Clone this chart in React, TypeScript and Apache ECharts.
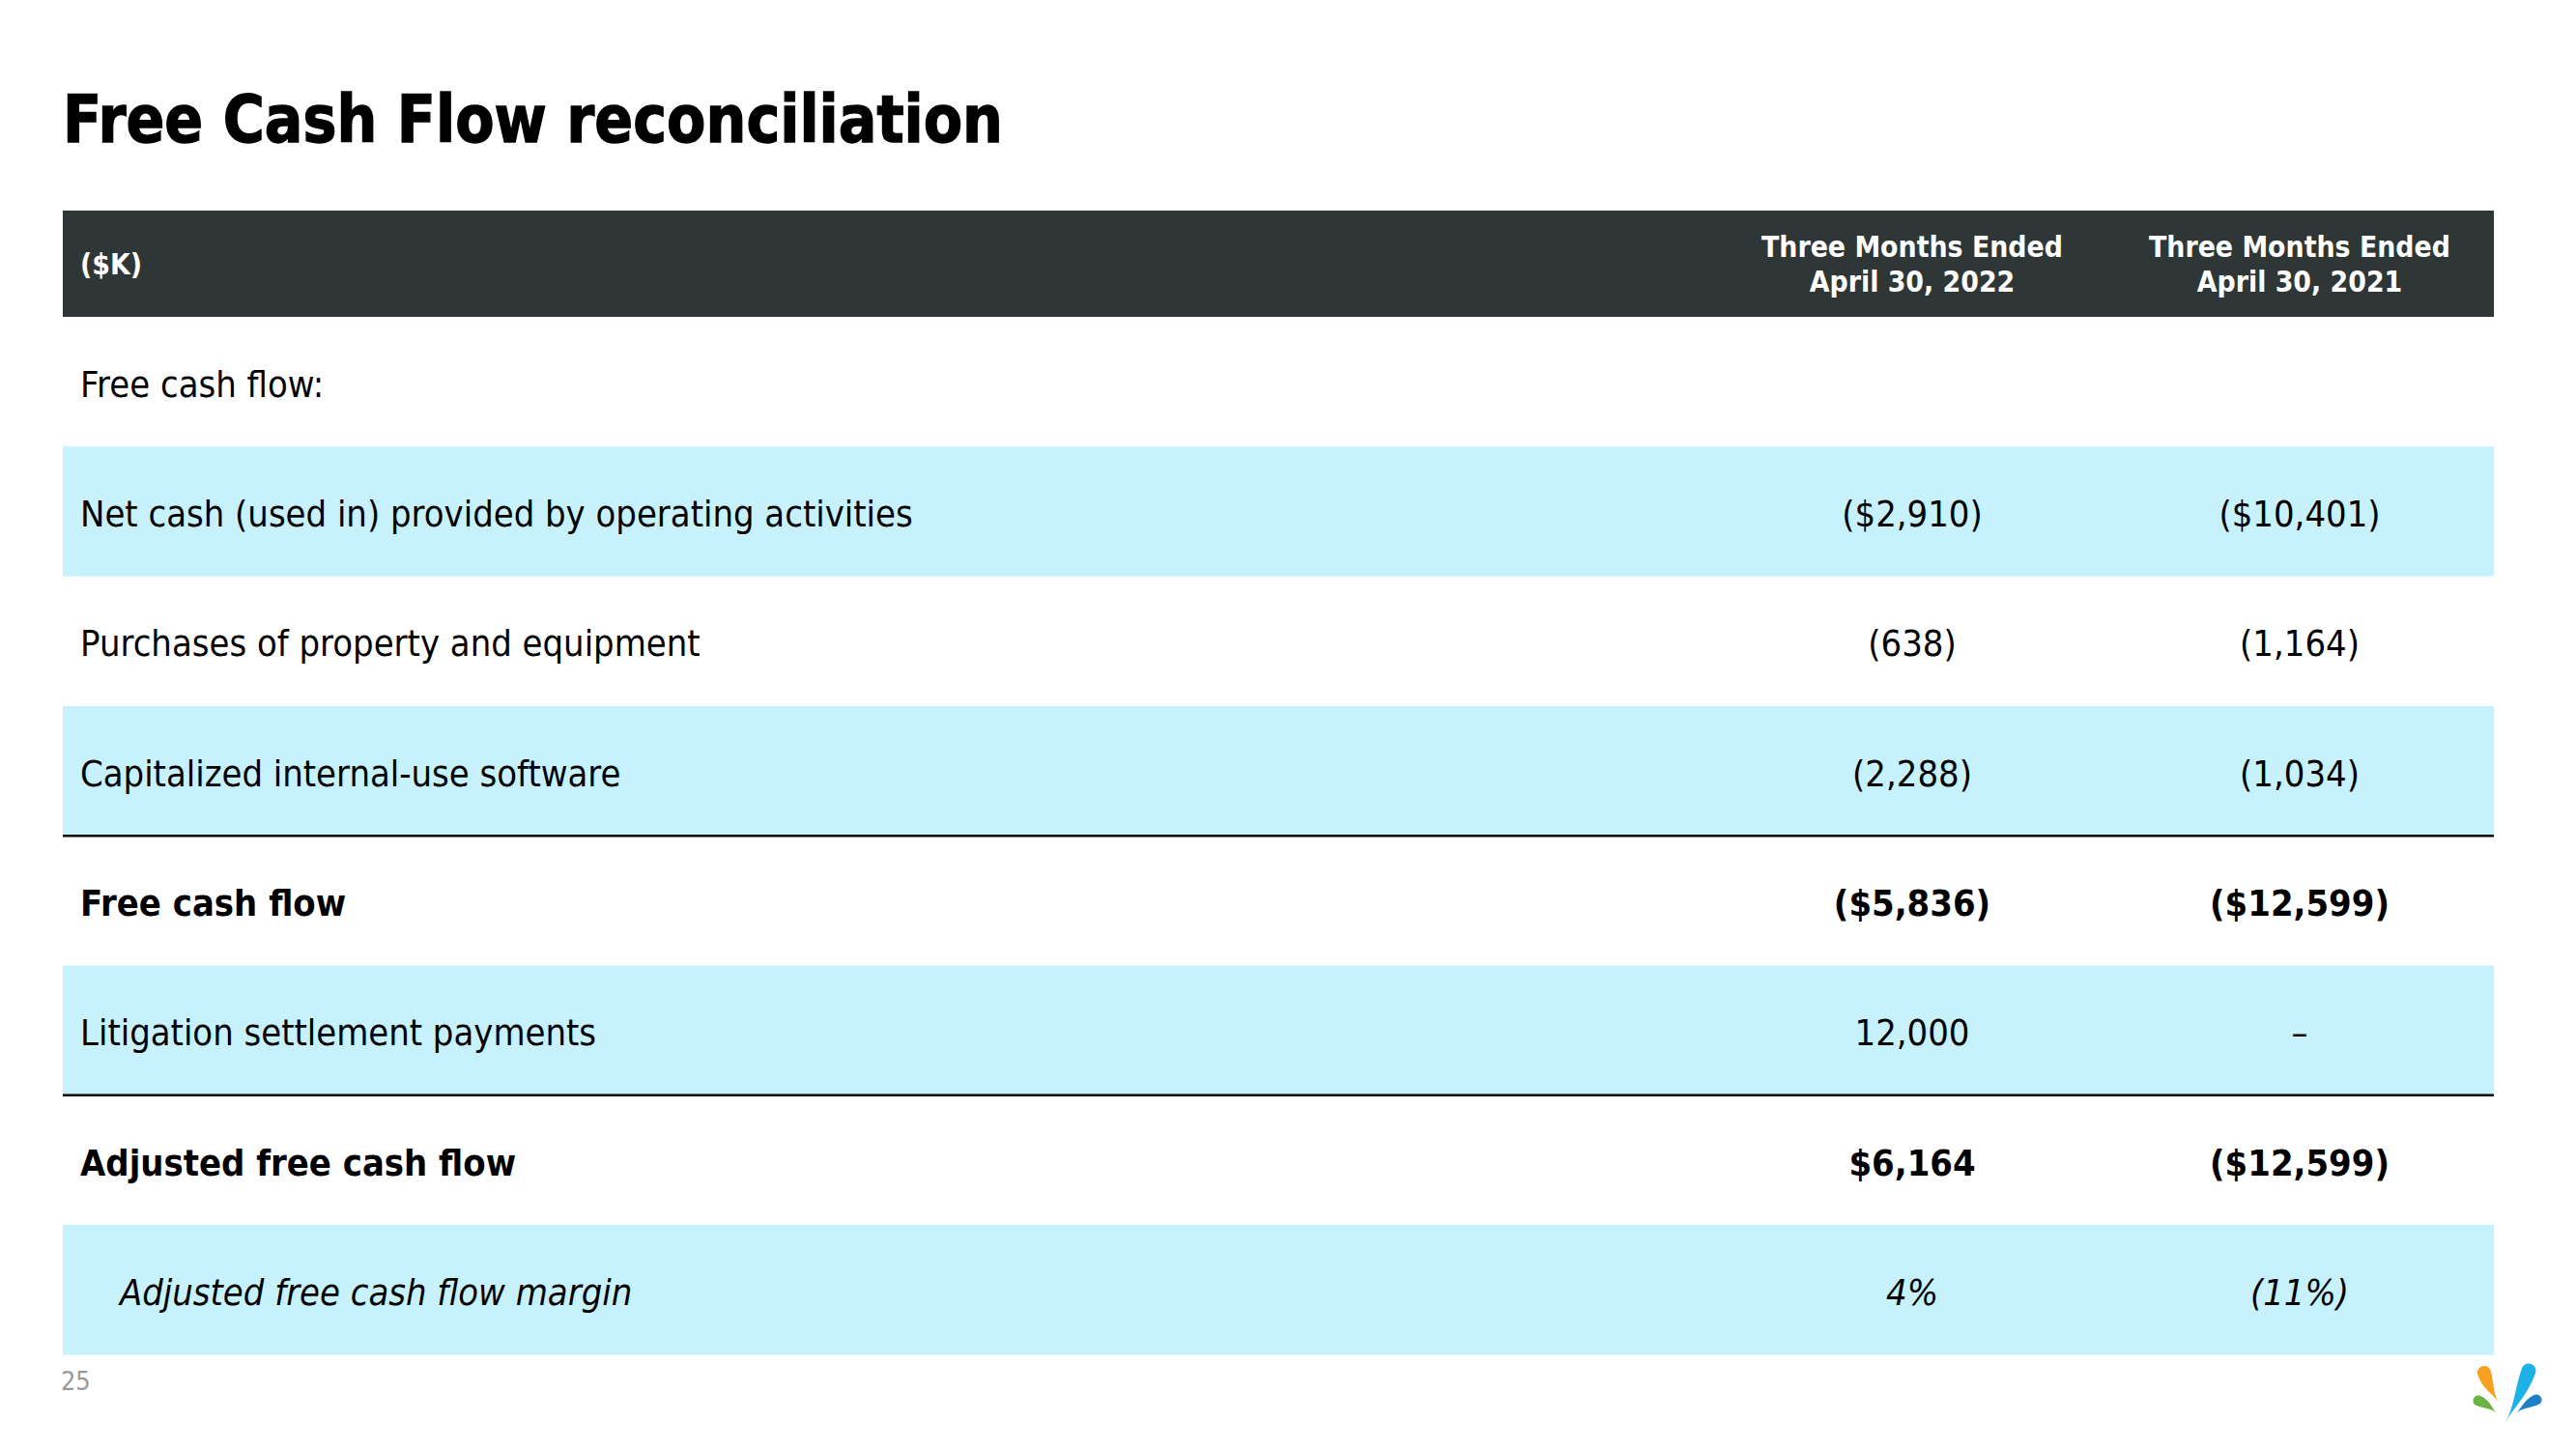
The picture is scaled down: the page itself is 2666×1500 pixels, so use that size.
import React, { useEffect, useRef } from "react";
import * as echarts from "echarts";

// ---- Data ----
const title = "Free Cash Flow reconciliation";
const unitLabel = "($K)";
const columnHeaders = ["Three Months Ended\nApril 30, 2022", "Three Months Ended\nApril 30, 2021"];
const rowLabels = [
  "Free cash flow:",
  "Net cash (used in) provided by operating activities",
  "Purchases of property and equipment",
  "Capitalized internal-use software",
  "Free cash flow",
  "Litigation settlement payments",
  "Adjusted free cash flow",
  "Adjusted free cash flow margin",
];
const values2022 = ["", "($2,910)", "(638)", "(2,288)", "($5,836)", "12,000", "$6,164", "4%"];
const values2021 = ["", "($10,401)", "(1,164)", "(1,034)", "($12,599)", "\u2013", "($12,599)", "(11%)"];
const pageNumber = "25";

// ---- Layout / style config ----
const boldRows = [4, 6];
const italicRows = [7];
const shadedRows = [1, 3, 5, 7];
const ruleBeforeRows = [4, 6];

const W = 2666;
const H = 1500;
const FONT = "'DejaVu Sans', Verdana, sans-serif";
const SX = 0.895;
const tableLeft = 65;
const tableRight = 2581;
const headerTop = 218;
const headerBottom = 328;
const rowH = 134.3;
const labelX = 83;
const italicLabelX = 124;
const colX = [1979, 2380];
const DARK = "#2F3736";
const BLUE = "#C7F1FC";

// logo droplets: head centre, head radius, tip, colour (local coords)
const drops: Array<[string, number, number, number, number, number, number, string]> = [
  ["dropOrange", 16, 11, 7, 31, 41, 2, "#F5A01E"],
  ["dropGreen", 10, 40, 5.5, 29, 53, -1.5, "#6AB344"],
  ["dropLight", 62, 9, 7.5, 38, 62, -2, "#1CB2E8"],
  ["dropDark", 70, 39, 5.5, 49, 53, 1.5, "#1E80C6"],
];
function dropPath(cx: number, cy: number, r: number, tx: number, ty: number, bend: number) {
  const dx = tx - cx, dy = ty - cy;
  const L = Math.hypot(dx, dy);
  const ux = dx / L, uy = dy / L;
  const px = -uy, py = ux;
  const k = 0.552 * r;
  const A = [cx + r * px, cy + r * py];
  const B = [cx - r * px, cy - r * py];
  const Bk = [cx - r * ux, cy - r * uy];
  const f = (n: number) => n.toFixed(2);
  const P = (a: number[]) => `${f(a[0])},${f(a[1])}`;
  return [
    `M${P(A)}`,
    `C${P([A[0] - k * ux, A[1] - k * uy])} ${P([Bk[0] + k * px, Bk[1] + k * py])} ${P(Bk)}`,
    `C${P([Bk[0] - k * px, Bk[1] - k * py])} ${P([B[0] - k * ux, B[1] - k * uy])} ${P(B)}`,
    `C${P([B[0] + 0.4 * L * ux + bend * px, B[1] + 0.4 * L * uy + bend * py])} ${P([tx - 0.3 * L * ux + bend * px, ty - 0.3 * L * uy + bend * py])} ${P([tx, ty])}`,
    `C${P([tx - 0.3 * L * ux + bend * px, ty - 0.3 * L * uy + bend * py])} ${P([A[0] + 0.4 * L * ux + bend * px, A[1] + 0.4 * L * uy + bend * py])} ${P(A)}`,
    "Z",
  ].join(" ");
}
let registered = false;
function registerDrops() {
  if (registered) return;
  registered = true;
  drops.forEach((d) => {
    echarts.graphic.registerShape(d[0], (echarts.graphic as any).extendPath(dropPath(d[1], d[2], d[3], d[4], d[5], d[6]), {}));
  });
}

function txt(text: string, x: number, y: number, opts: any = {}) {
  return {
    type: "text",
    x,
    y,
    scaleX: opts.scaleX || SX,
    silent: true,
    style: {
      text,
      fill: opts.fill || "#000000",
      fontFamily: FONT,
      fontSize: opts.fontSize || 34,
      fontWeight: opts.fontWeight || "normal",
      fontStyle: opts.fontStyle || "normal",
      textAlign: opts.align || "left",
      textVerticalAlign: "middle",
      lineHeight: opts.lineHeight,
      stroke: opts.stroke,
      lineWidth: opts.lineWidth,
    },
  };
}

export default function App() {
  const ref = useRef<HTMLDivElement>(null);
  useEffect(() => {
    document.body.style.margin = "0";
    registerDrops();
    const chart = echarts.init(ref.current!, null, { renderer: "svg", width: W, height: H });
    const els: any[] = [];
    els.push({ type: "rect", shape: { x: 0, y: 0, width: W, height: H }, style: { fill: "#ffffff" }, silent: true });
    els.push(txt(title, 65, 123, { fontSize: 68, fontWeight: "bold", scaleX: 0.865, stroke: "#000000", lineWidth: 1.4 }));
    // header
    els.push({ type: "rect", shape: { x: tableLeft, y: headerTop, width: tableRight - tableLeft, height: headerBottom - headerTop }, style: { fill: DARK } });
    els.push(txt(unitLabel, labelX, (headerTop + headerBottom) / 2 + 1, { fill: "#ffffff", fontSize: 30, fontWeight: "bold" }));
    columnHeaders.forEach((h, i) => {
      els.push(txt(h, colX[i], (headerTop + headerBottom) / 2 + 1, { fill: "#ffffff", fontSize: 30, fontWeight: "bold", align: "center", lineHeight: 36 }));
    });
    // rows
    rowLabels.forEach((label, r) => {
      const top = headerBottom + r * rowH;
      const cy = top + rowH / 2 + 3;
      if (shadedRows.includes(r)) {
        els.push({ type: "rect", shape: { x: tableLeft, y: top, width: tableRight - tableLeft, height: rowH }, style: { fill: BLUE } });
      }
      if (ruleBeforeRows.includes(r)) {
        els.push({ type: "line", shape: { x1: tableLeft, y1: top, x2: tableRight, y2: top }, style: { stroke: "#000000", lineWidth: 2.5 } });
      }
      const o: any = { fontSize: 38 };
      if (boldRows.includes(r)) o.fontWeight = "bold";
      if (italicRows.includes(r)) o.fontStyle = "italic";
      els.push(txt(label, italicRows.includes(r) ? italicLabelX : labelX, cy, o));
      [values2022[r], values2021[r]].forEach((v, i) => {
        if (v) els.push(txt(v, colX[i], cy, { ...o, align: "center" }));
      });
    });
    els.push(txt(pageNumber, 63, 1430, { fill: "#9A9A9A", fontSize: 27 }));
    drops.forEach((d) => {
      els.push({ type: d[0], x: 2555, y: 1410, style: { fill: d[7] } });
    });
    chart.setOption({ animation: false, graphic: { elements: els } });
    return () => chart.dispose();
  }, []);
  return <div ref={ref} style={{ width: W, height: H }} />;
}
